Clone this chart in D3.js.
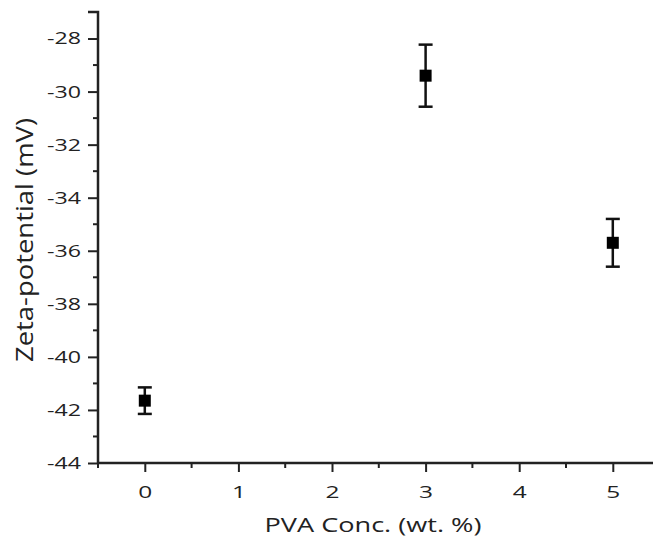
<!DOCTYPE html>
<html>
<head>
<meta charset="utf-8">
<script src="https://cdn.jsdelivr.net/npm/d3@7"></script>
<style>
  body { margin: 0; background: #fff; }
  svg { display: block; }
  text { font-family: "Open Sans", "Noto Sans", sans-serif; fill: #222; }
</style>
</head>
<body>
<div id="chart"></div>
<script>
var conc = [0, 3, 5];
var zeta = [-41.65, -29.4, -35.7];
var zetaErr = [0.5, 1.17, 0.9];
var xTicks = [0, 1, 2, 3, 4, 5];
var yTicks = [-44, -42, -40, -38, -36, -34, -32, -30, -28];

var w = 653, h = 538;
var padLeft = 98, padTop = 12, axisY = 463;

var svg = d3.select("#chart").append("svg")
    .attr("width", w)
    .attr("height", h);

var x = d3.scaleLinear().domain([-0.5, 5.5]).range([padLeft, padLeft + 561.6]);
var y = d3.scaleLinear().domain([-44, -27]).range([axisY, padTop]);

// minor ticks
var xMinor = [-0.5, 0.5, 1.5, 2.5, 3.5, 4.5, 5.5];
var yMinor = [-43, -41, -39, -37, -35, -33, -31, -29, -27];

var xAxis = svg.append("g")
    .attr("transform", "translate(0," + axisY + ")")
    .call(d3.axisBottom(x).tickValues(xTicks).tickSize(9).tickPadding(14).tickFormat(d3.format("d")));
xAxis.append("g").selectAll("line")
    .data(xMinor)
    .enter()
    .append("line")
    .attr("x1", function (d) { return x(d); })
    .attr("x2", function (d) { return x(d); })
    .attr("y1", 0)
    .attr("y2", 5)
    .attr("stroke", "#222")
    .attr("stroke-width", 2);

var yAxis = svg.append("g")
    .attr("transform", "translate(" + padLeft + ",0)")
    .call(d3.axisLeft(y).tickValues(yTicks).tickSize(10).tickPadding(7)
        .tickFormat(function (d) { return String(d); }));
yAxis.append("g").selectAll("line")
    .data(yMinor)
    .enter()
    .append("line")
    .attr("y1", function (d) { return y(d); })
    .attr("y2", function (d) { return y(d); })
    .attr("x1", 0)
    .attr("x2", -5)
    .attr("stroke", "#222")
    .attr("stroke-width", 2);

svg.selectAll(".domain").attr("stroke", "#222").attr("stroke-width", 2.5);
svg.selectAll(".tick line").attr("stroke", "#222").attr("stroke-width", 2);
svg.selectAll(".tick text").attr("font-size", 17).attr("fill", "#1a1a1a")
    .attr("font-family", "Open Sans");
yAxis.selectAll(".tick text").attr("textLength", 34).attr("lengthAdjust", "spacingAndGlyphs");
xAxis.selectAll(".tick text").attr("textLength", 14).attr("lengthAdjust", "spacingAndGlyphs");
yAxis.select(".domain").attr("d", "M-10," + y(-27) + "H0V" + (axisY + 1));
xAxis.select(".domain").attr("d", "M" + padLeft + ",0H" + w);

// error bars
var pts = conc.map(function (c, i) { return { c: c, v: zeta[i], e: zetaErr[i] }; });
var cap = 7;
var eb = svg.append("g").attr("stroke", "#111").attr("stroke-width", 2.5);
eb.selectAll(".stem").data(pts).enter().append("line")
    .attr("x1", function (d) { return x(d.c); })
    .attr("x2", function (d) { return x(d.c); })
    .attr("y1", function (d) { return y(d.v + d.e); })
    .attr("y2", function (d) { return y(d.v - d.e); });
eb.selectAll(".capt").data(pts).enter().append("line")
    .attr("x1", function (d) { return x(d.c) - cap; })
    .attr("x2", function (d) { return x(d.c) + cap; })
    .attr("y1", function (d) { return y(d.v + d.e); })
    .attr("y2", function (d) { return y(d.v + d.e); });
eb.selectAll(".capb").data(pts).enter().append("line")
    .attr("x1", function (d) { return x(d.c) - cap; })
    .attr("x2", function (d) { return x(d.c) + cap; })
    .attr("y1", function (d) { return y(d.v - d.e); })
    .attr("y2", function (d) { return y(d.v - d.e); });

var s = 12;
svg.selectAll(".pt").data(pts).enter().append("rect")
    .attr("x", function (d) { return x(d.c) - s / 2; })
    .attr("y", function (d) { return y(d.v) - s / 2; })
    .attr("width", s)
    .attr("height", s)
    .attr("fill", "#000");

svg.append("text")
    .attr("x", 373)
    .attr("y", 532)
    .attr("text-anchor", "middle")
    .attr("textLength", 217)
    .attr("lengthAdjust", "spacingAndGlyphs")
    .style("font-size", "20px")
    .text("PVA Conc. (wt. %)");

svg.append("text")
    .attr("transform", "translate(33,240) rotate(-90)")
    .attr("text-anchor", "middle")
    .attr("textLength", 244)
    .attr("lengthAdjust", "spacingAndGlyphs")
    .style("font-size", "23px")
    .text("Zeta-potential (mV)");
</script>
</body>
</html>
